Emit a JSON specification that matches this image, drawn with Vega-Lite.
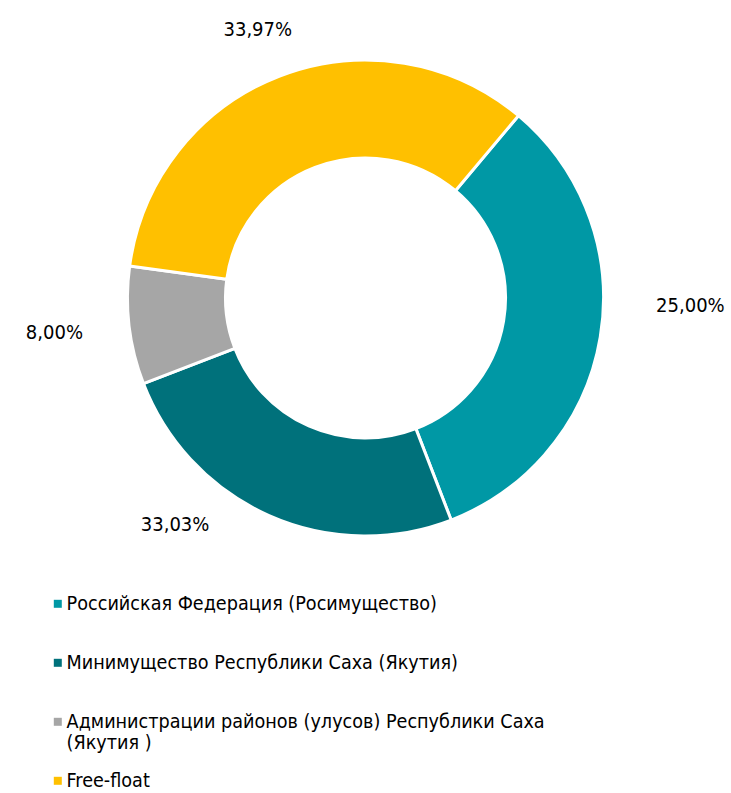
{
  "$schema": "https://vega.github.io/schema/vega-lite/v6.json",
  "width": 731,
  "height": 596,
  "padding": 0,
  "autosize": {"type": "pad"},
  "background": "white",
  "config": {"view": {"stroke": null}, "font": "DejaVu Sans Condensed, Roboto"},
  "data": {
    "values": [
      {"n": 1, "category": "Российская Федерация (Росимущество)", "value": 33.03, "label": "25,00%"},
      {"n": 2, "category": "Минимущество Республики Саха (Якутия)", "value": 25.0, "label": "33,03%"},
      {"n": 3, "category": "Администрации районов (улусов) Республики Саха (Якутия )", "value": 8.0, "label": "8,00%"},
      {"n": 4, "category": "Free-float", "value": 33.97, "label": "33,97%"}
    ]
  },
  "transform": [
    {"stack": "value", "groupby": [], "sort": [{"field": "n", "order": "ascending"}], "as": ["v0", "v1"]}
  ],
  "layer": [
    {
      "mark": {"type": "arc", "outerRadius": 238, "innerRadius": 140, "stroke": "#ffffff", "strokeWidth": 3},
      "encoding": {
        "theta": {"field": "v0", "type": "quantitative", "scale": {"domain": [0, 100], "range": [0.6981, 6.9813]}},
        "theta2": {"field": "v1"},
        "color": {
          "field": "category",
          "type": "nominal",
          "scale": {
            "domain": [
              "Российская Федерация (Росимущество)",
              "Минимущество Республики Саха (Якутия)",
              "Администрации районов (улусов) Республики Саха (Якутия )",
              "Free-float"
            ],
            "range": ["#0098A5", "#00717B", "#A6A6A6", "#FFC000"]
          },
          "legend": {
            "orient": "none",
            "legendX": 48,
            "legendY": 594,
            "title": null,
            "symbolType": "square",
            "symbolSize": 64,
            "symbolStrokeWidth": 0,
            "labelFontSize": 19.6,
            "labelFont": "DejaVu Sans Condensed, Roboto",
            "labelColor": "#000000",
            "labelOffset": -1,
            "labelLimit": 700,
            "rowPadding": 17,
            "gridAlign": "all",
            "labelExpr": "datum.label == 'Администрации районов (улусов) Республики Саха (Якутия )' ? ['Администрации районов (улусов) Республики Саха', '(Якутия )'] : datum.label"
          }
        }
      }
    },
    {
      "transform": [{"filter": "datum.n == 1"}],
      "mark": {"type": "text", "radius": 325, "thetaOffset": -1.178, "fontSize": 20, "font": "DejaVu Sans Condensed, Roboto", "color": "#000000"},
      "encoding": {"theta": {"field": "v1", "type": "quantitative"}, "text": {"field": "label"}}
    },
    {
      "transform": [{"filter": "datum.n == 2"}],
      "mark": {"type": "text", "radius": 296, "thetaOffset": -0.504, "fontSize": 20, "font": "DejaVu Sans Condensed, Roboto", "color": "#000000"},
      "encoding": {"theta": {"field": "v1", "type": "quantitative"}, "text": {"field": "label"}}
    },
    {
      "transform": [{"filter": "datum.n == 3"}],
      "mark": {"type": "text", "radius": 313, "thetaOffset": -0.246, "fontSize": 20, "font": "DejaVu Sans Condensed, Roboto", "color": "#000000"},
      "encoding": {"theta": {"field": "v1", "type": "quantitative"}, "text": {"field": "label"}}
    },
    {
      "transform": [{"filter": "datum.n == 4"}],
      "mark": {"type": "text", "radius": 289, "thetaOffset": -1.08, "fontSize": 20, "font": "DejaVu Sans Condensed, Roboto", "color": "#000000"},
      "encoding": {"theta": {"field": "v1", "type": "quantitative"}, "text": {"field": "label"}}
    }
  ]
}
